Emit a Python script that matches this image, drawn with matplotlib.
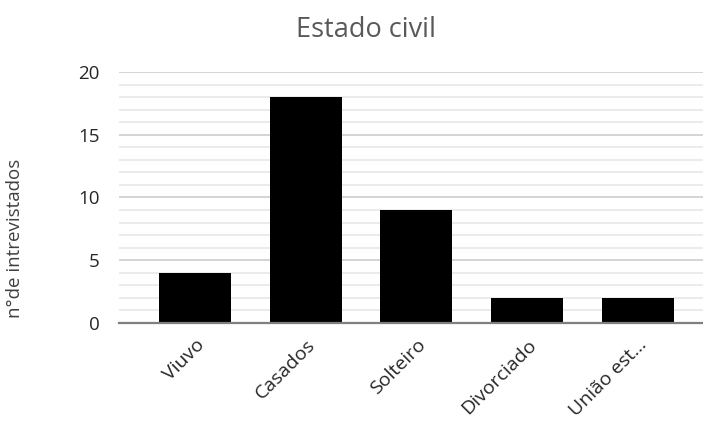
import matplotlib.pyplot as plt
from matplotlib.ticker import MultipleLocator

# estado civil dos entrevistados
categorias = ['Viuvo', 'Casados', 'Solteiro', 'Divorciado', 'União est...']
contagens = [4, 18, 9, 2, 2]

plt.rcParams['font.family'] = ['Open Sans', 'DejaVu Sans']

fig = plt.figure(figsize=(7.03, 4.23), dpi=100)
ax = fig.add_axes([0.1693, 0.2364, 0.8307, 0.5934])

x = list(range(len(categorias)))
ax.bar(x, contagens, width=0.65, color='black', zorder=3)

ax.set_xlim(-0.686, 4.587)
ax.set_ylim(0, 20)

# linhas de grade: principais a cada 5, secundárias a cada 1
ax.yaxis.set_major_locator(MultipleLocator(5))
ax.yaxis.set_minor_locator(MultipleLocator(1))
ax.grid(which='major', axis='y', color='#d4d4d4', linewidth=1.4, zorder=0)
ax.grid(which='minor', axis='y', color='#e8e8e8', linewidth=1.2, zorder=0)

for lado in ['top', 'right', 'left']:
    ax.spines[lado].set_visible(False)
ax.spines['bottom'].set_color('#7f7f7f')
ax.spines['bottom'].set_linewidth(1.6)
ax.spines['bottom'].set_zorder(4)

ax.tick_params(axis='y', which='both', length=0, labelsize=13.5, labelcolor='#262626', pad=14)
ax.tick_params(axis='x', length=0, labelsize=14, labelcolor='#262626', pad=9)
ax.set_xticks(x)
ax.set_xticklabels(categorias, rotation=45, ha='right', rotation_mode='anchor')

ax.set_ylabel('n°de intrevistados', fontsize=13.5, color='#404040')
ax.yaxis.set_label_coords(-0.162, 0.339)
fig.text(0.52, 0.929, 'Estado civil', fontsize=19.5, color='#595959',
         ha='center', va='center')

fig.savefig('out.png', dpi=100)
